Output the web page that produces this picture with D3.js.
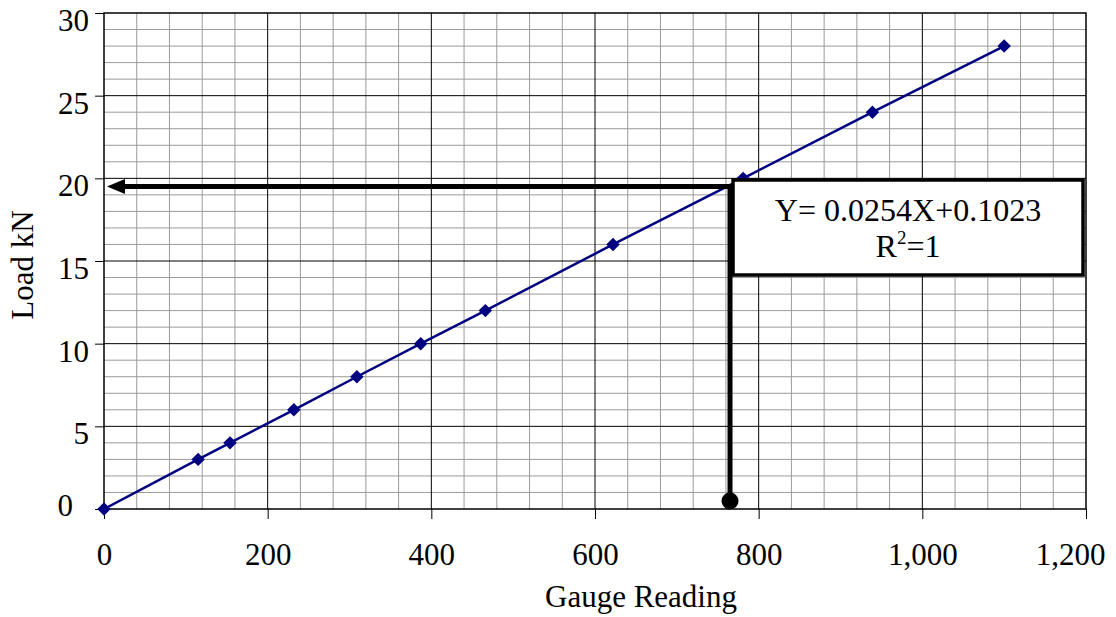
<!DOCTYPE html>
<html>
<head>
<meta charset="utf-8">
<script src="https://cdn.jsdelivr.net/npm/d3@7"></script>
<style>
  body { margin: 0; background: #fff; }
  svg { font-family: "Liberation Serif", "Times New Roman", serif; }
</style>
</head>
<body>
<div id="chart"></div>
<script>
// calibration readings
const gauge = [0, 115, 154, 232, 309, 387, 466, 622, 781, 939, 1100];
const load = [0, 3, 4, 6, 8, 10, 12, 16, 20, 24, 28];
const xTicks = [0, 200, 400, 600, 800, 1000, 1200];
const yTicks = [0, 5, 10, 15, 20, 25, 30];
const readGauge = 765;
const readLoad = 19.5;
const eqLines = ["Y= 0.0254X+0.1023", "R", "=1"];

const width = 1116, height = 617;
const margin = {top: 13, right: 30, bottom: 108, left: 104};

const svg = d3.select("#chart").append("svg")
  .attr("width", width)
  .attr("height", height)
  .attr("viewBox", [0, 0, width, height]);

const x = d3.scaleLinear()
  .domain([0, 1200])
  .range([margin.left, width - margin.right]);

const y = d3.scaleLinear()
  .domain([0, 30])
  .range([height - margin.bottom, margin.top]);

// grid: minor every 40 / 1, major every 200 / 5
const grid = g => g
  .call(g => g.append("g")
    .selectAll("line")
    .data(d3.range(40, 1200, 40).filter(d => d % 200 !== 0))
    .join("line")
      .attr("x1", d => x(d)).attr("x2", d => x(d))
      .attr("y1", y(30)).attr("y2", y(0))
      .attr("stroke", "#9a9a9a"))
  .call(g => g.append("g")
    .selectAll("line")
    .data(d3.range(1, 30, 1).filter(d => d % 5 !== 0))
    .join("line")
      .attr("y1", d => y(d)).attr("y2", d => y(d))
      .attr("x1", x(0)).attr("x2", x(1200))
      .attr("stroke", "#9a9a9a"))
  .call(g => g.append("g")
    .selectAll("line")
    .data(xTicks.slice(1, -1))
    .join("line")
      .attr("x1", d => x(d)).attr("x2", d => x(d))
      .attr("y1", y(30)).attr("y2", y(0))
      .attr("stroke", "#000"))
  .call(g => g.append("g")
    .selectAll("line")
    .data(yTicks.slice(1, -1))
    .join("line")
      .attr("y1", d => y(d)).attr("y2", d => y(d))
      .attr("x1", x(0)).attr("x2", x(1200))
      .attr("stroke", "#000"));

svg.append("g").call(grid);

svg.append("rect")
  .attr("x", x(0)).attr("y", y(30))
  .attr("width", x(1200) - x(0))
  .attr("height", y(0) - y(30))
  .attr("fill", "none")
  .attr("stroke", "#000")
  .attr("stroke-width", 1.5);

const xAxis = g => g
  .attr("transform", `translate(0,${y(0)})`)
  .call(d3.axisBottom(x).tickValues(xTicks).tickSize(10).tickPadding(24).tickFormat(d3.format(",")))
  .call(g => g.select(".domain").remove())
  .call(g => g.selectAll(".tick line").attr("stroke", "#000"))
  .call(g => g.selectAll(".tick text")
    .attr("font-family", "Liberation Serif, serif")
    .attr("font-size", 31)
    .attr("fill", "#000"))
  .call(g => g.selectAll(".tick").filter(d => d === 1200).select("text")
    .attr("dx", -16));

const yAxis = g => g
  .attr("transform", `translate(${x(0)},0)`)
  .call(d3.axisLeft(y).tickValues(yTicks).tickSize(9).tickPadding(6))
  .call(g => g.select(".domain").remove())
  .call(g => g.selectAll(".tick line").attr("stroke", "#000"))
  .call(g => g.selectAll(".tick text")
    .attr("font-family", "Liberation Serif, serif")
    .attr("font-size", 31)
    .attr("fill", "#000")
    .attr("dy", "0.56em"))
  .call(g => g.selectAll(".tick").filter(d => d === 0).select("text")
    .attr("dx", -16)
    .attr("dy", "0.2em"));

svg.append("g").call(xAxis);
svg.append("g").call(yAxis);

// series
const pts = gauge.map((g, i) => [g, load[i]]);
const line = d3.line().x(d => x(d[0])).y(d => y(d[1]));

svg.append("path")
  .datum(pts)
  .attr("fill", "none")
  .attr("stroke", "#000080")
  .attr("stroke-width", 2.5)
  .attr("d", line);

svg.append("g")
  .selectAll("path")
  .data(pts)
  .join("path")
    .attr("transform", d => `translate(${x(d[0])},${y(d[1])}) rotate(45)`)
    .attr("d", d3.symbol(d3.symbolSquare, 90))
    .attr("fill", "#000080");

// reading arrows
const rx = x(readGauge), ry = y(readLoad);
svg.append("line")
  .attr("x1", rx).attr("x2", rx)
  .attr("y1", ry - 2).attr("y2", y(0) - 8)
  .attr("stroke", "#000").attr("stroke-width", 5);
svg.append("line")
  .attr("x1", rx + 2).attr("x2", x(0) + 14)
  .attr("y1", ry).attr("y2", ry)
  .attr("stroke", "#000").attr("stroke-width", 5);
svg.append("path")
  .attr("d", `M${x(0) + 3},${ry} L${x(0) + 21},${ry - 7.5} L${x(0) + 21},${ry + 7.5} Z`)
  .attr("fill", "#000");
svg.append("circle")
  .attr("cx", rx).attr("cy", y(0) - 8)
  .attr("r", 8.5)
  .attr("fill", "#000");

// equation box
const bx = rx + 3, by = 180, bw = 350, bh = 95;
svg.append("rect")
  .attr("x", bx).attr("y", by)
  .attr("width", bw).attr("height", bh)
  .attr("fill", "#fff")
  .attr("stroke", "#000")
  .attr("stroke-width", 3.5);

svg.append("text")
  .attr("x", bx + bw / 2).attr("y", by + 41)
  .attr("text-anchor", "middle")
  .attr("font-size", 32)
  .text(eqLines[0]);

const t2 = svg.append("text")
  .attr("x", bx + bw / 2).attr("y", by + 77)
  .attr("text-anchor", "middle")
  .attr("font-size", 32);
t2.append("tspan").text(eqLines[1]);
t2.append("tspan").attr("font-size", 19).attr("dy", -13).text("2");
t2.append("tspan").attr("dy", 13).text(eqLines[2]);

// axis titles
svg.append("text")
  .attr("x", 641).attr("y", 607)
  .attr("text-anchor", "middle")
  .attr("font-size", 31)
  .text("Gauge Reading");

svg.append("text")
  .attr("transform", "translate(33,265) rotate(-90)")
  .attr("text-anchor", "middle")
  .attr("font-size", 31)
  .text("Load kN");
</script>
</body>
</html>
